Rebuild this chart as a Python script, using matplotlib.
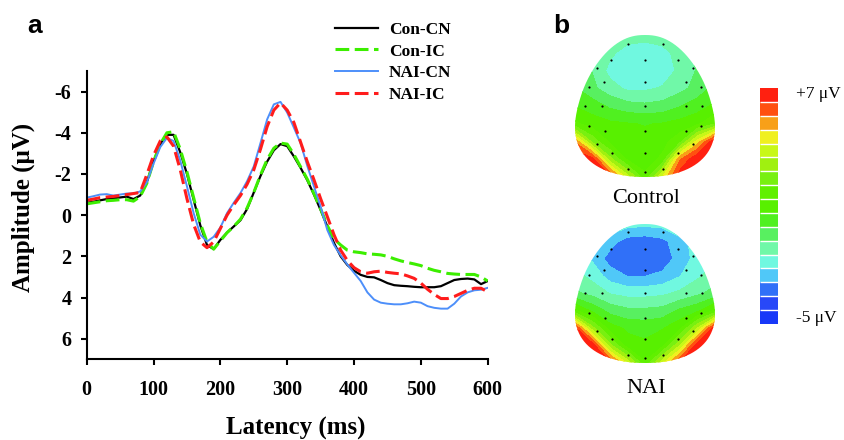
import numpy as np
import matplotlib
matplotlib.use('Agg')
import matplotlib.pyplot as plt
from matplotlib.colors import ListedColormap, BoundaryNorm
from matplotlib.path import Path
from matplotlib.patches import PathPatch
import matplotlib.cm as cm

plt.rcParams['font.family'] = ['Liberation Serif', 'DejaVu Serif']
plt.rcParams['axes.unicode_minus'] = False

# ---- panel a: ERP waveforms ----
latency = np.arange(0, 601, 10)

con_cn = [-0.6, -0.65, -0.72, -0.78, -0.82, -0.86, -0.9, -0.78, -0.95, -1.6,
          -2.6, -3.45, -3.9, -3.9, -3.05, -2.0, -0.75, 0.5, 1.45, 1.65,
          1.2, 0.85, 0.55, 0.25, -0.3, -1.1, -1.9, -2.6, -3.15, -3.45,
          -3.35, -2.85, -2.3, -1.7, -1.0, -0.25, 0.55, 1.35, 2.0, 2.42,
          2.7, 2.9, 3.0, 3.02, 3.15, 3.3, 3.4, 3.43, 3.45, 3.48,
          3.5, 3.5, 3.5, 3.45, 3.3, 3.15, 3.1, 3.08, 3.12, 3.35, 3.2]
con_ic = [-0.55, -0.6, -0.65, -0.7, -0.72, -0.75, -0.75, -0.68, -0.9, -1.55,
          -2.6, -3.45, -4.0, -4.05, -3.2, -2.1, -0.85, 0.4, 1.3, 1.65,
          1.25, 0.85, 0.55, 0.2, -0.35, -1.1, -1.95, -2.7, -3.25, -3.5,
          -3.45, -2.95, -2.35, -1.75, -1.05, -0.3, 0.5, 1.15, 1.45, 1.7,
          1.78, 1.82, 1.88, 1.9, 1.93, 2.0, 2.12, 2.22, 2.3, 2.37,
          2.45, 2.58, 2.68, 2.75, 2.83, 2.86, 2.88, 2.88, 2.88, 3.0, 3.2]
nai_cn = [-0.85, -0.92, -1.0, -1.02, -0.95, -1.0, -1.05, -1.05, -1.15, -1.6,
          -2.5, -3.3, -3.75, -3.6, -2.65, -1.4, -0.1, 0.95, 1.28, 1.05,
          0.6, -0.1, -0.6, -1.07, -1.65, -2.37, -3.5, -4.65, -5.38, -5.5,
          -4.98, -4.25, -3.5, -2.4, -1.4, -0.42, 0.72, 1.45, 1.95, 2.4,
          2.8, 3.2, 3.75, 4.1, 4.25, 4.3, 4.33, 4.33, 4.28, 4.2,
          4.25, 4.42, 4.5, 4.54, 4.54, 4.3, 3.95, 3.75, 3.65, 3.62, 3.53]
nai_ic = [-0.72, -0.78, -0.85, -0.88, -0.91, -0.95, -1.0, -1.05, -1.1, -1.97,
          -2.9, -3.6, -3.8, -3.35, -2.2, -0.8, 0.45, 1.3, 1.58, 1.3,
          0.65, 0.0, -0.5, -0.95, -1.5, -2.2, -3.2, -4.3, -5.1, -5.45,
          -5.1, -4.5, -3.55, -2.6, -1.72, -0.8, 0.07, 0.95, 1.7, 2.2,
          2.55, 2.75, 2.82, 2.75, 2.72, 2.78, 2.82, 2.85, 2.95, 3.07,
          3.3, 3.6, 3.85, 4.05, 4.05, 3.95, 3.8, 3.65, 3.55, 3.55, 3.72]

series_names = ['Con-CN', 'Con-IC', 'NAI-CN', 'NAI-IC']

# ---- panel b: topographic maps (coarse grid, rows top -> bottom) ----
grid_x = np.linspace(-1, 1, 9)
grid_y = np.linspace(1, -1, 9)
control_map = [
    [-0.5, -0.5, -0.8, -1.1, -1.2, -1.1, -0.8, -0.5, -0.5],
    [-0.3, -0.6, -1.3, -1.8, -1.9, -1.7, -1.2, -0.6, -0.3],
    [-0.2, -0.8, -1.7, -2.0, -2.0, -1.9, -1.3, -0.7, -0.2],
    [0.0, -0.6, -1.2, -1.6, -1.6, -1.4, -1.0, -0.5, 0.2],
    [0.6, 0.3, -0.2, -0.5, -0.6, -0.5, -0.1, 0.3, 0.8],
    [1.5, 1.0, 0.8, 0.7, 0.6, 0.7, 0.9, 1.2, 2.0],
    [5.5, 2.5, 1.2, 1.0, 0.9, 1.1, 1.8, 4.5, 7.0],
    [7.0, 6.6, 3.0, 1.2, 1.0, 1.5, 5.5, 7.0, 7.0],
    [7.0, 7.0, 6.5, 3.8, 1.5, 4.2, 6.8, 7.0, 7.0],
]
nai_map = [
    [-1.2, -1.3, -1.6, -1.9, -2.0, -1.9, -1.6, -1.3, -1.2],
    [-1.5, -1.9, -2.6, -3.2, -3.3, -3.1, -2.4, -1.9, -1.5],
    [-1.6, -2.3, -3.2, -3.5, -3.5, -3.3, -2.6, -1.9, -1.5],
    [-1.2, -1.7, -2.5, -2.9, -2.9, -2.7, -2.2, -1.6, -1.1],
    [-0.6, -1.0, -1.5, -1.7, -1.7, -1.6, -1.3, -0.9, -0.5],
    [1.5, 0.5, -0.3, -0.6, -0.6, -0.5, 0.1, 0.5, 1.5],
    [6.5, 3.0, 1.0, 0.5, 0.4, 0.6, 1.2, 3.5, 6.8],
    [7.0, 6.8, 3.0, 1.0, 0.8, 1.2, 3.5, 6.8, 7.0],
    [7.0, 7.0, 6.5, 4.0, 1.4, 4.0, 6.5, 7.0, 7.0],
]
elec_x = [-0.25, 0.25, -0.48, 0.0, 0.47, -0.69, 0.69, -0.58, 0.0, 0.58,
          -0.8, 0.8, -0.857, -0.61, 0.0, 0.58, 0.82, -0.8, -0.571, 0.0,
          0.58, 0.8, -0.69, -0.476, 0.0, 0.467, 0.69, -0.25, 0.0, 0.25]
elec_y = [0.88, 0.88, 0.645, 0.645, 0.645, 0.536, 0.536, 0.338, 0.338, 0.338,
          0.267, 0.267, 0.0, 0.0, 0.0, 0.0, 0.0, -0.277, -0.348, -0.348,
          -0.348, -0.277, -0.537, -0.655, -0.655, -0.655, -0.537, -0.89, -0.93, -0.89]

scale_colors = ['#1838f8', '#2848f8', '#3070f8', '#50c8f8', '#70f8e0', '#70f8a8',
                '#58f060', '#50f020', '#58f000', '#60f000', '#78f010', '#a0f010',
                '#c8f818', '#f0f020', '#f8a018', '#ff5010', '#ff2010']
scale_min, scale_max = -5, 7

W, H = 844, 440
fig = plt.figure(figsize=(W / 100, H / 100), dpi=100)


def fig_rect(x0, y0, x1, y1):
    # pixel box -> figure fraction
    return [x0 / W, 1 - y1 / H, (x1 - x0) / W, (y1 - y0) / H]


# ---------------- panel a ----------------
ax = fig.add_axes(fig_rect(86.7, 71, 487.7, 359.3))
styles = [dict(color='black', lw=1.6),
          dict(color='#3cee00', lw=2.2, dashes=(4.5, 1.8)),
          dict(color='#4d8ffa', lw=1.4),
          dict(color='#ff1c1c', lw=2.2, dashes=(4.5, 1.8))]
for name, vals, st in zip(series_names, [con_cn, con_ic, nai_cn, nai_ic], styles):
    ax.plot(latency, vals, label=name, **st)

ax.set_xlim(0, 600)
ax.set_ylim(7, -7)
ax.set_xticks(range(0, 601, 100))
ax.set_yticks(range(-6, 7, 2))
for side in ['top', 'right']:
    ax.spines[side].set_visible(False)
for side in ['left', 'bottom']:
    ax.spines[side].set_linewidth(1.5)
ax.tick_params(direction='out', length=4, width=1.5, labelsize=14.5)
ax.tick_params(axis='x', pad=11)
ax.tick_params(axis='y', pad=7)
for lab in ax.get_xticklabels() + ax.get_yticklabels():
    lab.set_fontweight('bold')
ax.set_xlabel('Latency (ms)', fontsize=18, fontweight='bold')
ax.set_ylabel('Amplitude (\u03bcV)', fontsize=18, fontweight='bold')
ax.xaxis.set_label_coords(0.521, -0.2)
ax.yaxis.set_label_coords(-0.128, 0.528)

leg = ax.legend(loc='upper left', bbox_to_anchor=(335 / W, 1 - 21.5 / H),
                bbox_transform=fig.transFigure, frameon=False, borderpad=0,
                borderaxespad=0, handlelength=2.5, handletextpad=0.6,
                labelspacing=0.33, prop=dict(weight='bold', size=12.5))

fig.text(27 / W, 1 - 33 / H, 'a', fontsize=19, fontweight='bold',
         family=['Liberation Sans', 'DejaVu Sans'], va='baseline')
fig.text(553 / W, 1 - 33 / H, 'b', fontsize=19, fontweight='bold',
         family=['Liberation Sans', 'DejaVu Sans'], va='baseline')

# ---------------- panel b ----------------
levels = np.linspace(scale_min, scale_max, len(scale_colors) + 1)
gx, gy = np.meshgrid(grid_x, grid_y)

# egg-shaped head outline
t = np.linspace(0, 2 * np.pi, 500)
oy = np.cos(t)
pw = np.where(oy > 0, 2.3, 2.2)
ow = (1 - np.abs(oy) ** pw) ** (1 / pw) * (1 - 0.27 * oy)
ox = np.sign(np.sin(t)) * ow / ow.max()
head_path = Path(np.column_stack([ox, oy]))

for vals, box, title, base in [(control_map, (575, 35, 715, 177), 'Control', 203),
                               (nai_map, (575, 224, 715, 363), 'NAI', 393)]:
    hax = fig.add_axes(fig_rect(*box))
    hax.set_xlim(-1, 1)
    hax.set_ylim(-1, 1)
    hax.axis('off')
    clip = PathPatch(head_path, transform=hax.transData, facecolor='none',
                     edgecolor='none')
    hax.add_patch(clip)
    cs = hax.contourf(gx, gy, np.array(vals), levels=levels, colors=scale_colors)
    cs.set_clip_path(clip)
    hax.plot(elec_x, elec_y, 'o', color='black', ms=1.6, mew=0)
    fig.text(((box[0] + box[2]) / 2 + 1) / W, 1 - base / H, title,
             fontsize=16, ha='center', va='baseline')

cax = fig.add_axes(fig_rect(760, 88, 778, 324))
sm = cm.ScalarMappable(norm=BoundaryNorm(levels, len(scale_colors)),
                       cmap=ListedColormap(scale_colors))
cb = fig.colorbar(sm, cax=cax, drawedges=True)
cb.outline.set_visible(False)
cb.dividers.set_color('white')
cb.dividers.set_linewidth(1)
cb.set_ticks([])
cb.minorticks_off()
cax.tick_params(which='both', length=0)
fig.text(796 / W, 1 - 94 / H, '+7 \u03bcV', fontsize=12.5, va='center')
fig.text(796 / W, 1 - 318 / H, '-5 \u03bcV', fontsize=12.5, va='center')

fig.savefig('out.png', dpi=100)
